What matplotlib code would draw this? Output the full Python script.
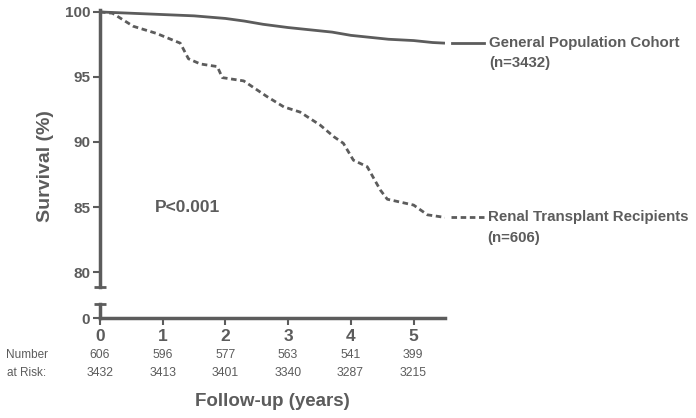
import numpy as np
import matplotlib.pyplot as plt

plt.rcParams['font.family'] = ['Liberation Sans', 'DejaVu Sans']

# survival curves (years, %)
gen_t = [0, 0.5, 1.0, 1.5, 2.0, 2.3, 2.6, 3.0, 3.4, 3.7, 4.0, 4.3, 4.6, 5.0, 5.3, 5.5]
gen_s = [100, 99.9, 99.8, 99.7, 99.5, 99.3, 99.05, 98.8, 98.6, 98.45, 98.2, 98.05, 97.9, 97.8, 97.65, 97.6]

ren_t = [0, 0.2, 0.53, 0.9, 1.28, 1.41, 1.6, 1.87, 1.95, 2.29, 2.66, 2.93, 3.19,
         3.51, 3.73, 3.88, 4.04, 4.26, 4.47, 4.58, 5.0, 5.22, 5.5]
ren_s = [100, 99.9, 98.9, 98.35, 97.6, 96.4, 96.0, 95.8, 94.95, 94.7, 93.5, 92.7, 92.3,
         91.3, 90.4, 89.9, 88.6, 88.1, 86.3, 85.6, 85.15, 84.4, 84.2]

years = [0, 1, 2, 3, 4, 5]
risk_renal = [606, 596, 577, 563, 541, 399]
risk_general = [3432, 3413, 3401, 3340, 3287, 3215]

col = '#5c5c5c'
W, H = 696, 418
fig = plt.figure(figsize=(W / 100, H / 100), dpi=100)

def fx(px):
    return px / W

def fy(py):
    return 1 - py / H

ax = fig.add_axes([fx(100), fy(287), fx(445) - fx(100), fy(10) - fy(287)])
axb = fig.add_axes([fx(100), fy(318), fx(445) - fx(100), fy(304) - fy(318)])

ax.plot(gen_t, gen_s, color=col, lw=2, solid_capstyle='butt')
ax.plot(ren_t, ren_s, color=col, lw=2, ls=(0, (2, 1.3)))
ax.set_xlim(0, 5.5)
ax.set_ylim(78.85, 100.15)
ax.set_yticks([80, 85, 90, 95, 100])
ax.set_xticks([])
for s in ['top', 'right', 'bottom']:
    ax.spines[s].set_visible(False)
ax.spines['left'].set_linewidth(2.5)
ax.spines['left'].set_color(col)
ax.tick_params(axis='y', direction='out', length=5, width=1.5, color=col,
               labelsize=11, labelcolor=col, pad=2)
for lab in ax.get_yticklabels():
    lab.set_fontweight('bold')

axb.set_xlim(0, 5.5)
axb.set_ylim(0, 1)
axb.set_yticks([0])
axb.set_xticks(years)
for s in ['top', 'right']:
    axb.spines[s].set_visible(False)
for s in ['left', 'bottom']:
    axb.spines[s].set_linewidth(2.5)
    axb.spines[s].set_color(col)
axb.tick_params(axis='y', direction='out', length=5, width=1.5, color=col,
                labelsize=11, labelcolor=col, pad=2)
axb.tick_params(axis='x', direction='out', length=5, width=1.5, color=col,
                labelsize=12.5, labelcolor=col, pad=3)
for lab in axb.get_yticklabels() + axb.get_xticklabels():
    lab.set_fontweight('bold')
axb.patch.set_alpha(0)

# break caps
ax.plot([0], [0], marker='_', ms=9, mew=2, color=col, transform=ax.transAxes, clip_on=False)
axb.plot([0], [1], marker='_', ms=9, mew=2, color=col, transform=axb.transAxes, clip_on=False)

fig.text(fx(46), fy(166), 'Survival (%)', fontsize=14, fontweight='bold', color=col,
         rotation=90, ha='center', va='center')

ax.text(0.88, 85.0, 'P<0.001', fontsize=12.5, fontweight='bold', color=col, va='center')

# line labels
ax.plot([5.61, 6.12], [97.6, 97.6], color=col, lw=2, clip_on=False)
ax.text(6.2, 97.6, 'General Population Cohort', fontsize=10.8, fontweight='bold', color=col, va='center')
ax.text(6.2, 96.05, '(n=3432)', fontsize=10.8, fontweight='bold', color=col, va='center')
ax.plot([5.6, 6.12], [84.2, 84.2], color=col, lw=2, ls=(0, (2, 1.3)), clip_on=False)
ax.text(6.18, 84.2, 'Renal Transplant Recipients', fontsize=10.8, fontweight='bold', color=col, va='center')
ax.text(6.18, 82.65, '(n=606)', fontsize=10.8, fontweight='bold', color=col, va='center')

# number at risk
for x, a, b in zip(years, risk_renal, risk_general):
    fig.text(fx(100 + x * 62.6), fy(355), str(a), fontsize=8.8, color=col, ha='center', va='center')
    fig.text(fx(100 + x * 62.6), fy(373), str(b), fontsize=8.8, color=col, ha='center', va='center')
fig.text(fx(27), fy(355), 'Number', fontsize=8.5, color=col, ha='center', va='center')
fig.text(fx(27), fy(373), 'at Risk:', fontsize=8.5, color=col, ha='center', va='center')

fig.text(fx(272), fy(402), 'Follow-up (years)', fontsize=13.5, fontweight='bold', color=col,
         ha='center', va='center')

fig.savefig('out.png', dpi=100)
